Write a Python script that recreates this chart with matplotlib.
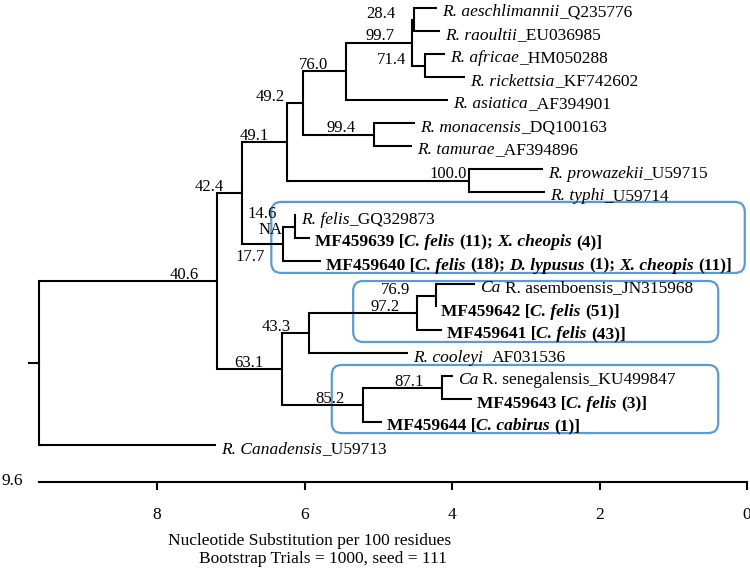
import matplotlib
matplotlib.use('Agg')
import matplotlib.pyplot as plt
from matplotlib.font_manager import FontProperties
from matplotlib.patches import FancyBboxPatch
from matplotlib.transforms import IdentityTransform

plt.rcParams['font.family'] = 'Liberation Serif'
plt.rcParams['font.size'] = 12

# tips, top to bottom, as (text, style) pieces: n=normal, i=italic, b=bold, bi=bold italic
tip_labels = [
    [('R. aeschlimannii', 'i'), ('_Q235776', 'n')],
    [('R. raoultii', 'i'), ('_EU036985', 'n')],
    [('R. africae', 'i'), ('_HM050288', 'n')],
    [('R. rickettsia', 'i'), ('_KF742602', 'n')],
    [('R. asiatica', 'i'), ('_AF394901', 'n')],
    [('R. monacensis', 'i'), ('_DQ100163', 'n')],
    [('R. tamurae', 'i'), ('_AF394896', 'n')],
    [('R. prowazekii', 'i'), ('_U59715', 'n')],
    [('R. typhi', 'i'), ('_U59714', 'n')],
    [('R. felis', 'i'), ('_GQ329873', 'n')],
    [('MF459639 [', 'b'), ('C. felis', 'bi'), (' (11); ', 'b'), ('X. cheopis', 'bi'), (' (4)]', 'b')],
    [('MF459640 [', 'b'), ('C. felis', 'bi'), (' (18); ', 'b'), ('D. lypusus', 'bi'), (' (1); ', 'b'),
     ('X. cheopis', 'bi'), (' (11)]', 'b')],
    [('Ca', 'i'), (' R. asemboensis_JN315968', 'n')],
    [('MF459642 [', 'b'), ('C. felis', 'bi'), (' (51)]', 'b')],
    [('MF459641 [', 'b'), ('C. felis', 'bi'), (' (43)]', 'b')],
    [('R. cooleyi', 'i'), ('  AF031536', 'n')],
    [('Ca', 'i'), (' R. senegalensis_KU499847', 'n')],
    [('MF459643 [', 'b'), ('C. felis', 'bi'), (' (3)]', 'b')],
    [('MF459644 [', 'b'), ('C. cabirus', 'bi'), (' (1)]', 'b')],
    [('R. Canadensis', 'i'), ('_U59713', 'n')],
]
# position of each tip on the substitution scale (9.6 ... 0)
tip_dist = [4.20, 4.16, 4.09, 3.82, 4.05, 4.50, 4.54, 2.77, 2.74, 6.12,
            5.93, 5.78, 3.69, 4.22, 4.14, 4.60, 3.99, 3.73, 4.95, 7.20]

# internal nodes: children are tip indices or node ids
node_ids = ['root', 'A', 'B', 'C', 'D', 'E', 'F', 'G', 'H', 'I',
            'J', 'K', 'L', 'M', 'N', 'O', 'P', 'Q', 'R']
node_dist = [9.60, 7.19, 6.85, 6.24, 6.02, 5.44, 4.54, 4.52, 4.37, 5.06,
             3.77, 6.29, 6.13, 6.31, 5.94, 4.47, 4.22, 5.21, 4.14]
node_support = ['', '40.6', '42.4', '49.1', '49.2', '76.0', '99.7', '28.4', '71.4', '99.4',
                '100.0', '17.7', '14.6', '63.1', '43.3', '97.2', '76.9', '85.2', '87.1']
node_kids = [('A', 19), ('B', 'M'), ('C', 'K'), ('D', 'J'), ('E', 'I'), ('F', 4), ('G', 'H'),
             (0, 1), (2, 3), (5, 6), (7, 8), ('L', 11), (9, 10), ('N', 'Q'), ('O', 15),
             ('P', 14), (12, 13), ('R', 18), (16, 17)]
extra_labels = [('NA', 'L')]

ruler_ticks = [8, 6, 4, 2, 0]

# highlighted groups: (left, right) on the scale, (top, bottom) in tip rows
boxes = [(6.45, 0.03, 8.43, 11.52), (5.34, 0.39, 11.87, 14.52), (5.63, 0.39, 15.52, 18.48)]

W, H, DPI = 750, 569, 100
fig = plt.figure(figsize=(W / DPI, H / DPI), dpi=DPI)
ax = fig.add_axes([0, 0, 1, 1])
ax.axis('off')

ppu = 708 / 9.6          # pixels per substitution unit
row_px = 23.0            # pixels between tips
ax.set_xlim(9.6 + 39 / ppu, -3 / ppu)
ax.set_ylim((H - 8) / row_px, -8 / row_px)

kids = dict(zip(node_ids, node_kids))
dist = dict(zip(node_ids, node_dist))
support = dict(zip(node_ids, node_support))


def pos(k):
    if isinstance(k, int):
        return tip_dist[k], float(k)
    a, b = kids[k]
    return dist[k], (pos(a)[1] + pos(b)[1]) / 2


# branches
for nid in node_ids:
    x, y = pos(nid)
    (xa, ya), (xb, yb) = pos(kids[nid][0]), pos(kids[nid][1])
    ax.plot([xa, x, x, xb], [ya, ya, yb, yb], color='black', lw=1.5,
            solid_joinstyle='miter', solid_capstyle='butt')
rx, ry = pos('root')
ax.plot([rx, rx + 10 / ppu], [ry, ry], color='black', lw=1.5)

# bootstrap values
special = {'76.9': (-26, 2, 'baseline'), '100.0': (-2, 2, 'baseline'),
           '17.7': (-18, -5, 'top'), '14.6': (-18, 8, 'baseline'), 'NA': (-12, -4, 'center')}
for txt, nid in [(support[n], n) for n in node_ids] + extra_labels:
    if not txt:
        continue
    dx, dy, va = special.get(txt, (-18, 2, 'baseline'))
    ax.annotate(txt, xy=pos(nid), xytext=(dx, dy), textcoords='offset pixels',
                ha='right', va=va, fontsize=12)

# tip labels with mixed styles
tsize = 12.5
fonts = {
    'n': FontProperties(family='Liberation Serif', size=tsize),
    'i': FontProperties(family='Liberation Serif', style='italic', size=tsize),
    'b': FontProperties(family='Liberation Serif', weight='bold', size=tsize),
    'bi': FontProperties(family='Liberation Serif', style='italic', weight='bold', size=tsize),
}
renderer = fig.canvas.get_renderer()


def width(s, fp):
    return renderer.get_text_width_height_descent(s, fp, ismath=False)[0]


space = {k: width('| |', fp) - width('||', fp) for k, fp in fonts.items()}

for i, pieces in enumerate(tip_labels):
    off = 5
    for s, st in pieces:
        fp = fonts[st]
        core = s.strip(' ')
        lead = len(s) - len(s.lstrip(' '))
        trail = len(s) - lead - len(core)
        off += lead * space[st]
        ax.annotate(core, xy=(tip_dist[i], i), xytext=(off, -8.5), textcoords='offset pixels',
                    fontproperties=fp, ha='left', va='baseline')
        off += width(core + '|', fp) - width('|', fp) + trail * space[st]

# blue rounded boxes
for x0, x1, y0, y1 in boxes:
    (px0, py0), (px1, py1) = ax.transData.transform([(x0, y0), (x1, y1)])
    ax.add_patch(FancyBboxPatch((min(px0, px1), min(py0, py1)), abs(px1 - px0), abs(py1 - py0),
                                boxstyle='round,pad=0,rounding_size=10', transform=IdentityTransform(),
                                fill=False, ec='#5b9bd5', lw=1.6))

# scale ruler
ax2 = fig.add_axes([39 / W, (H - 482) / H, 708 / W, 0.02])
ax2.set_xlim(9.6, 0)
ax2.set_xticks(ruler_ticks)
ax2.set_xticklabels([str(t) for t in ruler_ticks])
for s in ['top', 'left', 'right']:
    ax2.spines[s].set_visible(False)
ax2.spines['bottom'].set_linewidth(1.5)
ax2.set_yticks([])
ax2.patch.set_visible(False)
ax2.tick_params(axis='x', length=6, width=1.5, pad=12, labelsize=12.5)
ax2.annotate('9.6', xy=(9.6, 0), xycoords=('data', 'axes fraction'), xytext=(-27, 1),
             textcoords='offset pixels', ha='center', va='center', fontsize=12.5)

fig.text(310 / W, 1 - 541 / H, 'Nucleotide Substitution per 100 residues',
         ha='center', va='center', fontsize=12.5)
fig.text(323 / W, 1 - 559 / H, 'Bootstrap Trials = 1000, seed = 111',
         ha='center', va='center', fontsize=12.5)

fig.savefig('out.png', dpi=DPI)
